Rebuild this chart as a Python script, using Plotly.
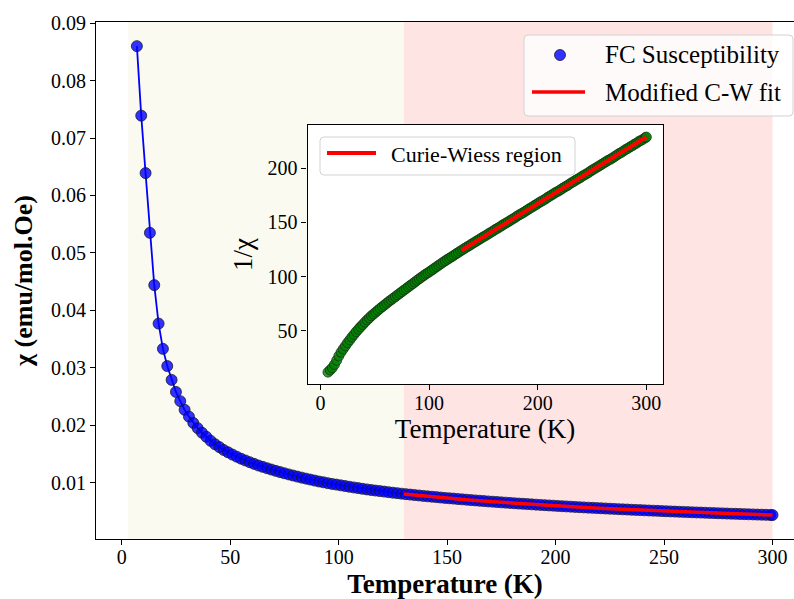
import plotly.graph_objects as go

# Field-cooled susceptibility chi(T) in emu/mol.Oe
temperature = [
    7, 9, 11, 13, 15, 17, 19, 21, 23, 25, 27, 29, 31, 33, 35, 37, 39, 41, 43, 45,
    47, 49, 51, 53, 55, 57, 59, 61, 63, 65, 67, 69, 71, 73, 75, 77, 79, 81, 83, 85,
    87, 89, 91, 93, 95, 97, 99, 101, 103, 105, 107, 109, 111, 113, 115, 117, 119, 121, 123, 125,
    127, 129, 131, 133, 135, 137, 139, 141, 143, 145, 147, 149, 151, 153, 155, 157, 159, 161, 163, 165,
    167, 169, 171, 173, 175, 177, 179, 181, 183, 185, 187, 189, 191, 193, 195, 197, 199, 201, 203, 205,
    207, 209, 211, 213, 215, 217, 219, 221, 223, 225, 227, 229, 231, 233, 235, 237, 239, 241, 243, 245,
    247, 249, 251, 253, 255, 257, 259, 261, 263, 265, 267, 269, 271, 273, 275, 277, 279, 281, 283, 285,
    287, 289, 291, 293, 295, 297, 299, 300,
]
chi = [
    0.0860, 0.0739, 0.0639, 0.0535, 0.0444, 0.0377, 0.0333, 0.0303, 0.0279, 0.0258,
    0.0242, 0.0227, 0.0215, 0.0204, 0.0195, 0.0187, 0.0180, 0.0173, 0.0167, 0.0162,
    0.0157, 0.0153, 0.01490, 0.01453, 0.01418, 0.01387, 0.01357, 0.01328, 0.01300, 0.01276,
    0.01252, 0.01229, 0.01206, 0.01185, 0.01164, 0.01144, 0.01125, 0.01106, 0.01088, 0.01071,
    0.01054, 0.01037, 0.01021, 0.01007, 0.00992, 0.00978, 0.00967, 0.00954, 0.00942, 0.00929,
    0.00917, 0.00906, 0.00894, 0.00883, 0.00873, 0.00863, 0.00854, 0.00845, 0.00836, 0.00826,
    0.00818, 0.00809, 0.00801, 0.00793, 0.00785, 0.00778, 0.00770, 0.00763, 0.00756, 0.00749,
    0.00742, 0.00735, 0.00729, 0.00723, 0.00716, 0.00710, 0.00704, 0.00697, 0.00692, 0.00686,
    0.00680, 0.00674, 0.00669, 0.00664, 0.00658, 0.00653, 0.00648, 0.00642, 0.00637, 0.00633,
    0.00628, 0.00623, 0.00618, 0.00613, 0.00609, 0.00604, 0.00600, 0.00595, 0.00591, 0.00587,
    0.00583, 0.00578, 0.00574, 0.00570, 0.00566, 0.00562, 0.00559, 0.00555, 0.00551, 0.00547,
    0.00544, 0.00540, 0.00536, 0.00533, 0.00529, 0.00526, 0.00523, 0.00519, 0.00516, 0.00513,
    0.00510, 0.00506, 0.00503, 0.00500, 0.00497, 0.00494, 0.00491, 0.00488, 0.00485, 0.00482,
    0.00480, 0.00477, 0.00474, 0.00471, 0.00468, 0.00466, 0.00463, 0.00460, 0.00458, 0.00455,
    0.00453, 0.00450, 0.00448, 0.00445, 0.00443, 0.00441, 0.00438, 0.00437,
]

# Modified Curie-Weiss fit over the high-temperature window
fit_temperature = [130, 140, 150, 160, 170, 180, 190, 200, 210, 220, 230, 240, 250, 260, 270, 280, 290, 300]
fit_chi = [0.00805, 0.00766, 0.00732, 0.00700, 0.00672, 0.00645, 0.00620, 0.00597, 0.00576,
           0.00556, 0.00538, 0.00521, 0.00505, 0.00490, 0.00475, 0.00462, 0.00449, 0.00437]

# Linear Curie-Weiss region of 1/chi
cw_temperature = [130, 300]
cw_inverse = [124.3, 228.9]

# Shaded temperature windows
low_window = [3, 130]
high_window = [130, 300]

inverse_chi = [1.0 / v for v in chi]

BEIGE = "rgb(250,250,241)"
PINK = "rgb(255,228,228)"
FONT = "Liberation Serif"

W, H = 794, 599
ML, MR, MT, MB = 96, 0, 22, 60
PW, PH = W - ML - MR, H - MT - MB


def px(x):
    return (x - ML) / PW


def py(y):
    return (H - MB - y) / PH


fig = go.Figure()

# main panel
fig.add_trace(go.Scatter(x=temperature, y=chi, mode="lines",
                         line=dict(color="blue", width=1.8), showlegend=False,
                         xaxis="x", yaxis="y"))
fig.add_trace(go.Scatter(x=temperature, y=chi, mode="markers", name="FC Susceptibility",
                         marker=dict(size=11, color="rgba(0,0,255,0.8)",
                                     line=dict(color="rgba(20,20,40,0.75)", width=1)),
                         showlegend=False, xaxis="x", yaxis="y"))
fig.add_trace(go.Scatter(x=fit_temperature, y=fit_chi, mode="lines", name="Modified C-W fit",
                         line=dict(color="red", width=3.5), showlegend=False,
                         xaxis="x", yaxis="y"))

# inset panel
fig.add_trace(go.Scatter(x=temperature, y=inverse_chi, mode="markers",
                         marker=dict(size=10, color="rgba(0,128,0,0.8)",
                                     line=dict(color="rgba(20,40,20,0.7)", width=1)),
                         showlegend=False, xaxis="x2", yaxis="y2"))
fig.add_trace(go.Scatter(x=cw_temperature, y=cw_inverse, mode="lines", name="Curie-Wiess region",
                         line=dict(color="red", width=4), showlegend=False,
                         xaxis="x2", yaxis="y2"))

shapes = [
    dict(type="rect", xref="x", yref="y domain", x0=low_window[0], x1=low_window[1], y0=0, y1=1,
         fillcolor=BEIGE, line=dict(width=0), layer="below"),
    dict(type="rect", xref="x", yref="y domain", x0=high_window[0], x1=high_window[1], y0=0, y1=1,
         fillcolor=PINK, line=dict(width=0), layer="below"),
    dict(type="rect", xref="x2 domain", yref="y2 domain", x0=0, x1=1, y0=0, y1=1,
         fillcolor="white", line=dict(width=0), layer="below"),
    dict(type="rect", xref="x2", yref="y2 domain", x0=low_window[0], x1=low_window[1], y0=0, y1=1,
         fillcolor=BEIGE, line=dict(width=0), layer="below"),
    dict(type="rect", xref="x2", yref="y2 domain", x0=high_window[0], x1=high_window[1], y0=0, y1=1,
         fillcolor=PINK, line=dict(width=0), layer="below"),
]


def rounded_box(x0, y0, x1, y1, r=4):
    return dict(type="path", xref="paper", yref="paper", layer="above",
                path=(f"M{px(x0 + r)},{py(y0)} L{px(x1 - r)},{py(y0)} "
                      f"Q{px(x1)},{py(y0)} {px(x1)},{py(y0 + r)} L{px(x1)},{py(y1 - r)} "
                      f"Q{px(x1)},{py(y1)} {px(x1 - r)},{py(y1)} L{px(x0 + r)},{py(y1)} "
                      f"Q{px(x0)},{py(y1)} {px(x0)},{py(y1 - r)} L{px(x0)},{py(y0 + r)} "
                      f"Q{px(x0)},{py(y0)} {px(x0 + r)},{py(y0)} Z"),
                fillcolor="rgba(255,255,255,0.8)", line=dict(color="rgb(210,210,210)", width=1))


# legend of the main panel
shapes.append(rounded_box(524, 35, 793, 116))
shapes.append(dict(type="circle", xref="paper", yref="paper", layer="above",
                   x0=px(554.5), x1=px(565.5), y0=py(49.5), y1=py(60.5),
                   fillcolor="rgba(0,0,255,0.8)", line=dict(color="rgba(20,20,40,0.75)", width=1)))
shapes.append(dict(type="line", xref="paper", yref="paper", layer="above",
                   x0=px(532), x1=px(585), y0=py(92), y1=py(92), line=dict(color="red", width=3.5)))
# legend of the inset
shapes.append(rounded_box(320, 137, 575, 175))
shapes.append(dict(type="line", xref="paper", yref="paper", layer="above",
                   x0=px(327), x1=px(376), y0=py(153), y1=py(153), line=dict(color="red", width=4)))

annotations = [
    dict(text="FC Susceptibility", xref="paper", yref="paper", x=px(603), y=py(55),
         xanchor="left", yanchor="middle", showarrow=False, font=dict(family=FONT, size=25, color="black")),
    dict(text="Modified C-W fit", xref="paper", yref="paper", x=px(603), y=py(92),
         xanchor="left", yanchor="middle", showarrow=False, font=dict(family=FONT, size=25, color="black")),
    dict(text="Curie-Wiess region", xref="paper", yref="paper", x=px(389), y=py(154),
         xanchor="left", yanchor="middle", showarrow=False, font=dict(family=FONT, size=22, color="black")),
]

axis_common = dict(showline=True, linecolor="black", linewidth=1.2, ticks="outside", ticklen=5,
                   tickwidth=1.1, tickcolor="black", showgrid=False, zeroline=False,
                   tickfont=dict(family=FONT, size=20, color="black"))

inset_x0, inset_x1 = px(307.5), px(662.5)
inset_y0, inset_y1 = py(384), py(125)

fig.update_layout(
    width=W, height=H,
    margin=dict(l=ML, r=MR, t=MT, b=MB),
    paper_bgcolor="white", plot_bgcolor="white",
    shapes=shapes, annotations=annotations, showlegend=False,
    xaxis=dict(domain=[0, 1], range=[-11.85, 309.9], tickvals=[0, 50, 100, 150, 200, 250, 300],
               mirror=True, anchor="y", ticklabelstandoff=-5,
               title=dict(text="Temperature (K)", standoff=8,
                          font=dict(family=FONT, size=27, color="black", weight="bold")),
               **axis_common),
    yaxis=dict(domain=[0, 1], range=[0.0002, 0.0902],
               tickvals=[0.01, 0.02, 0.03, 0.04, 0.05, 0.06, 0.07, 0.08, 0.09], tickformat=".2f",
               anchor="x",
               title=dict(text="χ (emu/mol.Oe)", standoff=10,
                          font=dict(family=FONT, size=26, color="black", weight="bold")),
               **axis_common),
    xaxis2=dict(domain=[inset_x0, inset_x1], range=[-11.85, 314.85], tickvals=[0, 100, 200, 300],
                mirror=True, anchor="y2", ticklabelstandoff=-4,
                title=dict(text="Temperature (K)", standoff=6,
                           font=dict(family=FONT, size=27, color="black")),
                **axis_common),
    yaxis2=dict(domain=[inset_y0, inset_y1], range=[0.7, 240.0], tickvals=[50, 100, 150, 200],
                mirror=True, anchor="x2",
                title=dict(text="1/χ", standoff=6,
                           font=dict(family=FONT, size=27, color="black")),
                **axis_common),
)

fig.write_html("out.html")
